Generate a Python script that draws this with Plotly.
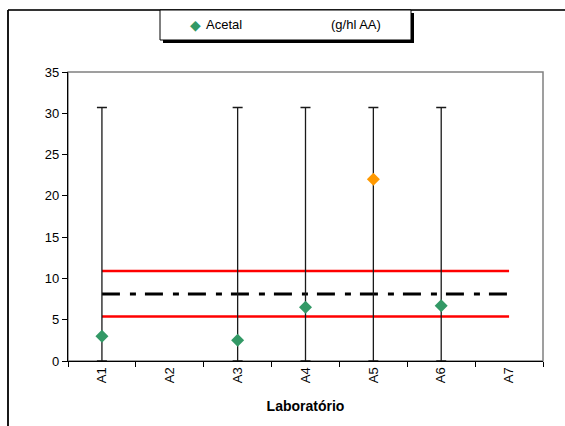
import plotly.graph_objects as go

# Laboratories on the x axis
labs = ["A1", "A2", "A3", "A4", "A5", "A6", "A7"]

# Acetal results per laboratory (g/hl AA)
acetal_labs = ["A1", "A3", "A4", "A5", "A6"]
acetal_vals = [3.0, 2.5, 6.5, 22.0, 6.7]
acetal_upper = [30.7, 30.7, 30.7, 30.7, 30.7]

# Reference value and acceptance limits
ref_value = 8.1
upper_limit = 10.9
lower_limit = 5.4

W, H = 565, 426
L, R, T, B = 68, 22, 72, 65
PW, PH = W - L - R, H - T - B


def px(x):
    return (x - L) / PW


def py(y):
    return (H - B - y) / PH


FONT = "Liberation Sans, Arial, sans-serif"
GREEN = "#339966"
ORANGE = "#FF9900"

fig = go.Figure()

# acceptance limits
for lim in (upper_limit, lower_limit):
    fig.add_trace(go.Scatter(
        x=labs, y=[lim] * len(labs), mode="lines",
        line=dict(color="#FF0000", width=2.5), hoverinfo="skip",
    ))

# reference value
fig.add_trace(go.Scatter(
    x=labs, y=[ref_value] * len(labs), mode="lines",
    line=dict(color="black", width=3, dash="18px,10px,6px,9px"),
    hoverinfo="skip",
))

# results with their ranges; the outlying laboratory is highlighted
fig.add_trace(go.Scatter(
    x=acetal_labs, y=acetal_vals, mode="markers", name="Acetal",
    marker=dict(symbol="diamond", size=10,
                color=[ORANGE if v > upper_limit * 2 else GREEN for v in acetal_vals]),
    error_y=dict(type="data", symmetric=False,
                 array=[u - v for u, v in zip(acetal_upper, acetal_vals)],
                 arrayminus=acetal_vals,
                 color="#1a1a1a", thickness=1.3, width=5),
))

shapes = [
    # plot area border
    dict(type="rect", xref="paper", yref="paper", x0=0, y0=0, x1=1, y1=1,
         line=dict(color="#808080", width=1.5), layer="below"),
    # outer frame
    dict(type="line", xref="paper", yref="paper", x0=px(8), y0=py(10), x1=px(W + 5), y1=py(10),
         line=dict(color="#333333", width=1.8)),
    dict(type="line", xref="paper", yref="paper", x0=px(8), y0=py(10), x1=px(8), y1=py(H + 5),
         line=dict(color="black", width=1.8)),
    # legend shadow and box
    dict(type="rect", xref="paper", yref="paper", x0=px(163), y0=py(43), x1=px(414), y1=py(13),
         fillcolor="black", line=dict(width=0)),
    dict(type="rect", xref="paper", yref="paper", x0=px(160), y0=py(40), x1=px(411), y1=py(10),
         fillcolor="white", line=dict(color="black", width=1)),
]

annotations = [
    dict(xref="paper", yref="paper", x=px(195), y=py(25), text="\u25C6",
         showarrow=False, font=dict(family="DejaVu Sans", size=14, color=GREEN),
         xanchor="center", yanchor="middle"),
    dict(xref="paper", yref="paper", x=px(204), y=py(25), text="Acetal",
         showarrow=False, font=dict(family=FONT, size=13, color="black"),
         xanchor="left", yanchor="middle"),
    dict(xref="paper", yref="paper", x=px(329), y=py(25), text="(g/hl AA)",
         showarrow=False, font=dict(family=FONT, size=13, color="black"),
         xanchor="left", yanchor="middle"),
]

fig.update_layout(
    width=W, height=H,
    margin=dict(l=L, r=R, t=T, b=B, pad=0),
    paper_bgcolor="white", plot_bgcolor="white",
    showlegend=False,
    font=dict(family=FONT, size=13, color="black"),
    shapes=shapes, annotations=annotations,
    xaxis=dict(
        type="category", categoryorder="array", categoryarray=labs,
        range=[-0.5, 6.5], tickson="boundaries",
        ticks="outside", ticklen=5, tickcolor="black", tickwidth=1,
        tickangle=-90, tickfont=dict(size=13),
        showline=True, linecolor="black", linewidth=1.3,
        showgrid=False, zeroline=False,
        title=dict(text="<b>Laboratório</b>", font=dict(size=14), standoff=18),
    ),
    yaxis=dict(
        range=[0, 35], dtick=5, tick0=0,
        ticks="outside", ticklen=5, tickcolor="black", tickwidth=1,
        tickfont=dict(size=13),
        showline=True, linecolor="black", linewidth=1.3,
        showgrid=False, zeroline=False,
    ),
)

fig.write_html("out.html")
